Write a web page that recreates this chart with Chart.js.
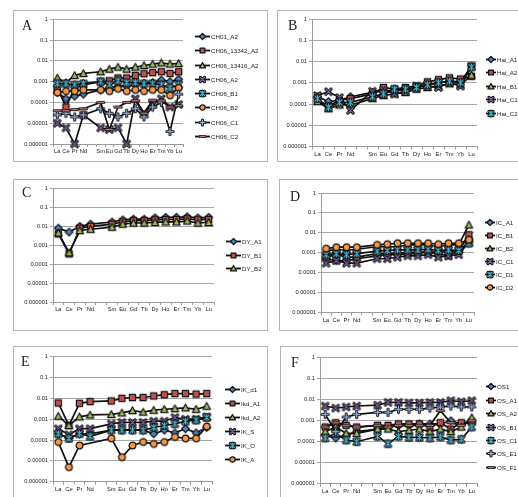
<!DOCTYPE html>
<html>
<head>
<meta charset="utf-8">
<script src="https://cdn.jsdelivr.net/npm/chart.js@4.4.1/dist/chart.umd.min.js"></script>
<style>
  body { margin: 0; background: #fff; width: 518px; height: 497px; overflow: hidden; position: relative; font-family: "Liberation Sans", Arial, sans-serif; }
  .box { position: absolute; border: 1px solid #b4b4b4; box-sizing: border-box; }
  .plot { position: absolute; }
  .tag { position: absolute; font-family: "Liberation Serif", "Times New Roman", serif; font-size: 14px; line-height: 14px; color: #222; }
  .leg { position: absolute; font-size: 6.2px; color: #222; white-space: nowrap; line-height: 9px; height: 9px; }
  .leg canvas { vertical-align: top; margin-right: 1px; }
</style>
</head>
<body>
<script>
// x axis: REE, blank slot where Pm would be
var elements = ["La", "Ce", "Pr", "Nd", "", "Sm", "Eu", "Gd", "Tb", "Dy", "Ho", "Er", "Tm", "Yb", "Lu"];
var yTickValues = [0.000001, 0.00001, 0.0001, 0.001, 0.01, 0.1, 1];
var yTickLabels = ["0.000001", "0.00001", "0.0001", "0.001", "0.01", "0.1", "1"];

// panel A
var namesA = ["CH01_A2", "CH06_13342_A2", "CH06_13416_A2", "CH06_A2", "CH06_B1", "CH06_B2", "CH06_C1", "CH06_C2"];
var CH01_A2       = [3e-4, 1.5e-4, 2e-4, 2.5e-4, null, 4e-4, 5e-4, 6e-4, 6e-4, 7e-4, 8e-4, 9e-4, 1.2e-3, 1e-3, 1.3e-3];
var CH06_13342_A2 = [5e-4, 6e-5, 5e-4, 7e-4, null, 1e-3, 1.1e-3, 1.5e-3, 1.5e-3, 2e-3, 2.4e-3, 2.7e-3, 3e-3, 2.5e-3, 3e-3];
var CH06_13416_A2 = [1.5e-3, 9e-4, 2e-3, 2.5e-3, null, 3e-3, 4e-3, 5e-3, 4e-3, 5e-3, 6e-3, 7e-3, 8e-3, 7e-3, 7.5e-3];
var CH06_A2       = [1e-5, 6e-6, 1e-6, 2.5e-5, null, 6e-6, 5e-6, 6e-6, 1e-6, 1.5e-4, 3e-5, 8e-5, 1.5e-4, 6e-5, 8e-5];
var CH06_B1       = [8e-4, 8e-4, 7e-4, 8e-4, null, 1e-3, 7e-4, 1.1e-3, 9e-4, 9e-4, 8e-4, 8e-4, 7e-4, 5e-4, 7e-4];
var CH06_B2       = [3e-4, 3.5e-4, 3.5e-4, 4e-4, null, 4e-4, 3.5e-4, 4.5e-4, 3.5e-4, 4e-4, 3.5e-4, 4e-4, 4e-4, 2.2e-4, 5e-4];
var CH06_C1       = [2.5e-5, 3e-5, 2e-5, 2.5e-5, null, 5e-5, 3e-5, 2e-5, 3e-5, 5e-5, 2e-5, 6e-5, 1e-4, 4e-6, 2.5e-4];
var CH06_C2       = [4e-5, 4e-5, 4.5e-5, 5e-5, null, 1e-4, 5e-6, 6e-5, 1e-4, 1.2e-4, 3e-5, 1.3e-4, 1.2e-4, 6e-5, 7e-5];

// panel B
var namesB = ["Hai_A1", "Hai_A2", "Hai_B1", "Hai_C1", "Hai_C2"];
var Hai_A1 = [2.2e-4, 1.3e-4, 1.5e-4, 2.2e-4, null, 3.5e-4, 4e-4, 4.5e-4, 4.5e-4, 6e-4, 8e-4, 1e-3, 1.2e-3, 1.1e-3, 6e-3];
var Hai_A2 = [1.5e-4, 8e-5, 1.5e-4, 1.8e-4, null, 3e-4, 6e-4, 5e-4, 6e-4, 7e-4, 1.1e-3, 1.4e-3, 1.7e-3, 1.5e-3, 2e-3];
var Hai_B1 = [1.3e-4, 6e-5, 9e-5, 9e-5, null, 1.8e-4, 2.5e-4, 3e-4, 3.5e-4, 5e-4, 6e-4, 7e-4, 9e-4, 8e-4, 2.3e-3];
var Hai_C1 = [2.5e-4, 3.8e-4, 2e-4, 5e-5, null, 4e-4, 4.5e-4, 3e-4, 4e-4, 7e-4, 7e-4, 6e-4, 1e-3, 7e-4, 6e-3];
var Hai_C2 = [1.8e-4, 7e-5, 1.2e-4, 1.2e-4, null, 2.2e-4, 3e-4, 5e-4, 5e-4, 6e-4, 8e-4, 1e-3, 1.2e-3, 1e-3, 5.5e-3];

// panel C
var namesC = ["DY_A1", "DY_B1", "DY_B2"];
var DY_A1 = [8e-3, 5e-3, 1e-2, 1.3e-2, null, 1.7e-2, 2.2e-2, 2.4e-2, 2.4e-2, 2.8e-2, 3e-2, 3e-2, 3.2e-2, 2.8e-2, 3e-2];
var DY_B1 = [4e-3, 3.5e-4, 8e-3, 1e-2, null, 1.3e-2, 1.7e-2, 2e-2, 2e-2, 2.2e-2, 2.3e-2, 2.3e-2, 2.5e-2, 2.2e-2, 2.3e-2];
var DY_B2 = [4.5e-3, 4e-4, 6e-3, 7e-3, null, 9e-3, 1.3e-2, 1.5e-2, 1.5e-2, 1.6e-2, 1.7e-2, 1.7e-2, 1.9e-2, 1.5e-2, 1.6e-2];

// panel D
var namesD = ["IC_A1", "IC_B1", "IC_B2", "IC_C1", "IC_D1", "IC_D2"];
var IC_A1 = [5e-4, 4e-4, 4e-4, 5e-4, null, 7e-4, 8e-4, 8e-4, 9e-4, 9e-4, 1.2e-3, 1e-3, 1.2e-3, 1.2e-3, 3.5e-3];
var IC_B1 = [6e-4, 8e-4, 6e-4, 6e-4, null, 9e-4, 9e-4, 1e-3, 1e-3, 1.1e-3, 1e-3, 9e-4, 7e-4, 1.2e-3, 8e-3];
var IC_B2 = [1.2e-3, 1.5e-3, 1.3e-3, 1.5e-3, null, 2e-3, 2e-3, 2e-3, 2.5e-3, 2.5e-3, 2.5e-3, 2e-3, 2.5e-3, 2.5e-3, 2.5e-2];
var IC_C1 = [3e-4, 4e-4, 3e-4, 3e-4, null, 5e-4, 5e-4, 6e-4, 7e-4, 7e-4, 8e-4, 6e-4, 7e-4, 8e-4, 3.5e-3];
var IC_D1 = [8e-4, 9e-4, 8e-4, 9e-4, null, 1.2e-3, 1.3e-3, 1.4e-3, 1.4e-3, 1.4e-3, 1.5e-3, 1.3e-3, 1.4e-3, 1.3e-3, 3e-3];
var IC_D2 = [1.6e-3, 1.9e-3, 1.9e-3, 1.9e-3, null, 2.5e-3, 2.7e-3, 3e-3, 3e-3, 3e-3, 3e-3, 2.7e-3, 3e-3, 3e-3, 4.5e-3];

// panel E
var namesE = ["IK_d1", "Ikd_A1", "Ikd_A2", "IK_S", "IK_O", "IK_A"];
var IK_d1  = [2e-4, 1.2e-4, 2e-4, 2e-4, null, 3e-4, 3e-4, 3e-4, 3e-4, 2e-4, 3e-4, 2.2e-4, 3.5e-4, 2.2e-4, 4e-4];
var Ikd_A1 = [6e-3, 5e-4, 5.8e-3, 7e-3, null, 7.5e-3, 1e-2, 1.1e-2, 1.1e-2, 1.3e-2, 1.5e-2, 1.7e-2, 1.7e-2, 1.6e-2, 1.7e-2];
var Ikd_A2 = [1.4e-3, 5e-4, 1.3e-3, 1.6e-3, null, 1.7e-3, 2e-3, 2.6e-3, 2.2e-3, 2.7e-3, 3e-3, 3.2e-3, 3.5e-3, 3e-3, 4.2e-3];
var IK_S   = [3.5e-4, 1.8e-4, 3.5e-4, 3.5e-4, null, 6e-4, 7e-4, 7e-4, 7e-4, 8e-4, 8e-4, 1.2e-3, 1e-3, 1e-3, 1.3e-3];
var IK_O   = [2e-4, 1.2e-4, 2e-4, 1.5e-4, null, 3e-4, 3e-4, 3e-4, 3e-4, 4e-4, 5e-4, 6e-4, 8e-4, 9e-4, 1.2e-3];
var IK_A   = [8e-5, 5e-6, 5.5e-5, null, null, 1.2e-4, 1.5e-5, 5.5e-5, 8e-5, 6.5e-5, 8e-5, 1.4e-4, 1.2e-4, 1.2e-4, 4.5e-4];

// panel F
var namesF = ["OS1", "OS_A1", "OS_A2", "OS_B1", "OS_C1", "OS_E1", "OS_F1"];
var OS1   = [2e-4, 1.5e-4, 2e-4, 3e-4, null, 4e-4, 5e-4, 6e-4, 6e-4, 7e-4, 7e-4, 7e-4, 1e-3, 7e-4, 8e-4];
var OS_A1 = [5e-4, 8e-4, 6e-4, 5e-4, null, 6e-4, 6e-4, 7e-4, 7e-4, 7e-4, 5e-4, 8e-4, 4e-4, 8e-4, 9e-4];
var OS_A2 = [3e-4, 5e-4, 2.5e-4, 2.5e-4, null, 4e-4, 4e-4, 3e-4, 3.5e-4, 4e-4, 3e-4, 4e-4, 3e-4, 5e-4, 1.4e-3];
var OS_B1 = [5e-3, 4e-3, 4.5e-3, 5e-3, null, 5.5e-3, 7.5e-3, 7.5e-3, 7e-3, 7e-3, 7.5e-3, 7.5e-3, 9e-3, 8e-3, 9e-3];
var OS_C1 = [1.5e-4, 2.5e-4, 1.2e-4, 1e-4, null, 1.8e-4, 8e-5, 1.8e-4, 1.6e-4, 1.6e-4, 1.5e-4, 1.7e-4, 1.2e-4, 1.3e-4, 5e-4];
var OS_E1 = [2e-3, 3e-4, 1.5e-3, 2e-3, null, 2.5e-3, 2.5e-3, 3.5e-3, 3.5e-3, 3.5e-3, 4e-3, 4.5e-3, 5e-3, 4.5e-3, 4.5e-3];
var OS_F1 = [5e-4, 8e-4, 6e-4, 5e-4, null, 6e-4, 5e-4, 6e-4, 6e-4, 6e-4, 6e-4, 3e-3, 8e-4, 6e-4, 1e-3];

var seriesColors = ["#4F81BD", "#C0504D", "#9BBB59", "#8064A2", "#4BACC6", "#F79646", "#8EA9D8", "#C07C7A"];
var seriesShapes = ["diamond", "square", "triangle", "x", "star", "circle", "plus", "dash"];

// layout of each panel: frame, plot area, legend, letter; sty = marker style index per series
var panels = [
  { tag: "A", names: namesA, data: [CH01_A2, CH06_13342_A2, CH06_13416_A2, CH06_A2, CH06_B1, CH06_B2, CH06_C1, CH06_C2], sty: [0, 1, 2, 3, 4, 5, 6, 7],
    box: [13, 10, 268, 162], plot: [53, 19.3, 183, 144], leg: { x: 195, len: 15, cy: 86.5, gap: 14.3 }, at: [22, 19] },
  { tag: "B", names: namesB, data: [Hai_A1, Hai_A2, Hai_B1, Hai_C1, Hai_C2], sty: [0, 1, 2, 3, 4],
    box: [277, 10, 522, 162], plot: [312, 19, 477, 146.5], leg: { x: 486, len: 10, cy: 86, gap: 13.5 }, at: [288, 19] },
  { tag: "C", names: namesC, data: [DY_A1, DY_B1, DY_B2], sty: [0, 1, 2],
    box: [13, 179, 268, 331], plot: [53, 188.5, 214, 302], leg: { x: 226, len: 15, cy: 255, gap: 13.3 }, at: [22, 186] },
  { tag: "D", names: namesD, data: [IC_A1, IC_B1, IC_B2, IC_C1, IC_D1, IC_D2], sty: [0, 1, 2, 3, 4, 5],
    box: [279, 179, 522, 331], plot: [321, 193, 474, 312.5], leg: { x: 485, len: 10, cy: 255, gap: 13 }, at: [290, 190] },
  { tag: "E", names: namesE, data: [IK_d1, Ikd_A1, Ikd_A2, IK_S, IK_O, IK_A], sty: [0, 1, 2, 3, 4, 5],
    box: [13, 346, 268, 520], plot: [53, 356.7, 212, 481.7], leg: { x: 225, len: 15, cy: 424, gap: 14 }, at: [21, 355] },
  { tag: "F", names: namesF, data: [OS1, OS_A1, OS_A2, OS_B1, OS_C1, OS_E1, OS_F1], sty: [0, 1, 2, 3, 4, 6, 7],
    box: [280, 346, 522, 520], plot: [320, 357.7, 477, 483.7], leg: { x: 486, len: 10, cy: 427, gap: 13.4 }, at: [291, 356] }
];

function drawMarker(g, shape, color, cx, cy, r) {
  g.lineJoin = "round";
  g.lineCap = "round";
  var filled = ["diamond", "square", "triangle", "circle"].indexOf(shape) >= 0;
  if (filled) {
    g.beginPath();
    if (shape == "diamond") {
      g.moveTo(cx, cy - r - 0.7); g.lineTo(cx + r + 0.7, cy); g.lineTo(cx, cy + r + 0.7); g.lineTo(cx - r - 0.7, cy); g.closePath();
    } else if (shape == "square") {
      g.rect(cx - r, cy - r, 2 * r, 2 * r);
    } else if (shape == "triangle") {
      g.moveTo(cx, cy - r - 0.6); g.lineTo(cx + r + 0.6, cy + r); g.lineTo(cx - r - 0.6, cy + r); g.closePath();
    } else {
      g.arc(cx, cy, r + 0.3, 0, Math.PI * 2);
    }
    g.fillStyle = color;
    g.fill();
    g.strokeStyle = "#111";
    g.lineWidth = 1.2;
    g.stroke();
    return;
  }
  var segs = [];
  var d = r * 0.85;
  if (shape == "x" || shape == "star") segs.push([cx - d, cy - d, cx + d, cy + d], [cx - d, cy + d, cx + d, cy - d]);
  if (shape == "star") segs.push([cx, cy - r, cx, cy + r]);
  if (shape == "plus") segs.push([cx - r, cy, cx + r, cy], [cx, cy - r, cx, cy + r]);
  if (shape == "dash") segs.push([cx - r, cy, cx + r, cy]);
  [["#111", 3.2], [color, 1.3]].forEach(function(p) {
    g.strokeStyle = p[0];
    g.lineWidth = p[1];
    g.beginPath();
    segs.forEach(function(s) { g.moveTo(s[0], s[1]); g.lineTo(s[2], s[3]); });
    g.stroke();
  });
}

function pointImage(k) {
  var c = document.createElement("canvas");
  c.width = 11; c.height = 11;
  drawMarker(c.getContext("2d"), seriesShapes[k], seriesColors[k], 5.5, 5.5, 3.1);
  return c;
}

function legendIcon(k, len) {
  var c = document.createElement("canvas");
  c.width = len; c.height = 9;
  var g = c.getContext("2d");
  g.strokeStyle = "#111";
  g.lineWidth = 1.8;
  g.beginPath(); g.moveTo(0, 4.5); g.lineTo(len, 4.5); g.stroke();
  drawMarker(g, seriesShapes[k], seriesColors[k], len / 2, 4.5, 2.4);
  return c;
}

panels.forEach(function(p) {
  var bx = p.box[0], by = p.box[1], bw = p.box[2] - p.box[0], bh = p.box[3] - p.box[1];
  var frame = document.createElement("div");
  frame.className = "box";
  frame.style.cssText = "left:" + bx + "px;top:" + by + "px;width:" + bw + "px;height:" + bh + "px";
  document.body.appendChild(frame);

  var cv = document.createElement("canvas");
  cv.className = "plot";
  cv.width = bw; cv.height = bh;
  cv.style.left = bx + "px"; cv.style.top = by + "px";
  document.body.appendChild(cv);

  var yw = p.plot[0] - bx;
  var xh = 12;
  var n = p.names.length;
  var datasets = p.names.map(function(name, i) {
    return {
      label: name,
      data: p.data[i],
      borderColor: "#111",
      borderWidth: 1.7,
      pointStyle: pointImage(p.sty[i]),
      pointRadius: 4,
      spanGaps: true,
      clip: false,
      order: n - i
    };
  });

  new Chart(cv.getContext("2d"), {
    type: "line",
    data: { labels: elements, datasets: datasets },
    options: {
      responsive: false,
      animation: false,
      events: [],
      layout: { padding: { left: 0, top: p.plot[1] - by, right: bw - (p.plot[2] - bx), bottom: bh - (p.plot[3] - by) - xh } },
      plugins: { legend: { display: false }, tooltip: { enabled: false } },
      scales: {
        x: {
          type: "category",
          offset: true,
          grid: { offset: true, drawOnChartArea: false, tickLength: 3, color: "#9a9a9a" },
          border: { color: "#9a9a9a" },
          ticks: { autoSkip: false, maxRotation: 0, padding: 1, color: "#222", font: { size: 5.8, family: "Liberation Sans" } },
          afterFit: function(s) { s.height = xh; }
        },
        y: {
          type: "logarithmic",
          min: 0.000001,
          max: 1,
          grid: { color: "#a6a6a6", tickLength: 3 },
          border: { color: "#9a9a9a" },
          afterBuildTicks: function(s) { s.ticks = yTickValues.map(function(v) { return { value: v }; }); },
          ticks: {
            padding: 2,
            color: "#222",
            font: { size: 5.7, family: "Liberation Sans" },
            callback: function(v, idx) { return yTickLabels[idx]; }
          },
          afterFit: function(s) { s.width = yw; }
        }
      }
    }
  });

  var tag = document.createElement("div");
  tag.className = "tag";
  tag.textContent = p.tag;
  tag.style.left = p.at[0] + "px";
  tag.style.top = p.at[1] + "px";
  document.body.appendChild(tag);

  var top0 = p.leg.cy - (n - 1) * p.leg.gap / 2;
  p.names.forEach(function(name, i) {
    var item = document.createElement("div");
    item.className = "leg";
    item.style.left = p.leg.x + "px";
    item.style.top = (top0 + i * p.leg.gap - 4.5) + "px";
    item.appendChild(legendIcon(p.sty[i], p.leg.len));
    item.appendChild(document.createTextNode(name));
    document.body.appendChild(item);
  });
});
</script>
</body>
</html>
